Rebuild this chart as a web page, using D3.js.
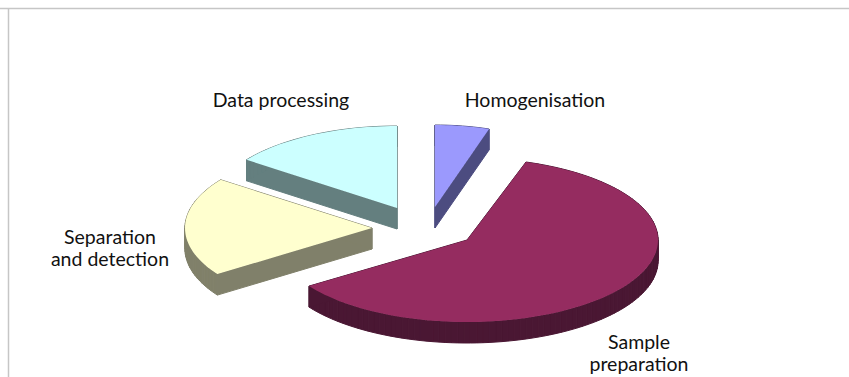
<!DOCTYPE html>
<html>
<head>
<meta charset="utf-8">
<script src="https://cdn.jsdelivr.net/npm/d3@7/dist/d3.min.js"></script>
<style>
  html, body { margin: 0; padding: 0; background: #fff; }
  svg { display: block; }
  text { font-family: "Lato", "Open Sans", sans-serif; font-size: 19.5px; fill: #111; text-anchor: middle; }
</style>
</head>
<body>
<svg id="chart" width="849" height="377"></svg>
<script>
// Share of analysis time per step, clockwise from twelve o'clock
const categories = ["Homogenisation", "Sample preparation", "Separation and detection", "Data processing"];
const shares = [5, 60.5, 19.5, 15];
const topColors = ["#9b99fd", "#952c60", "#ffffcf", "#ccffff"];
const wallColors = ["#4c4c80", "#4a1733", "#80806a", "#647f7f"];

// Pulled-out slice apexes, widths and label anchors, in pixels
const apexes = [[435, 207], [467, 240], [372, 228], [397, 208]];
const radiiX = [175, 191, 187, 186];
const labelLines = [["Homogenisation"], ["Sample", "preparation"], ["Separation", "and detection"], ["Data processing"]];
const labelAnchors = [[535, 107], [639, 349], [110, 244], [281, 107]];

const radiusY = 82, depth = 21;
const drawOrder = [3, 2, 0, 1];

const svg = d3.select("#chart");

// Frame rules along the top and left
svg.append("line").attr("x1", 0).attr("x2", 849).attr("y1", 8.5).attr("y2", 8.5)
  .attr("stroke", "#c6c6c6").attr("stroke-width", 1.5);
svg.append("line").attr("x1", 8.5).attr("x2", 8.5).attr("y1", 9).attr("y2", 377)
  .attr("stroke", "#c6c6c6").attr("stroke-width", 1.5);

const arcs = d3.pie().sort(null).value(d => d)(shares);

// Outline of the tilted top face of one slice, apex first
function outline(arc, apex, radiusX) {
  const sx = d3.scaleLinear().domain([-1, 1]).range([apex[0] - radiusX, apex[0] + radiusX]);
  const sy = d3.scaleLinear().domain([-1, 1]).range([apex[1] - radiusY, apex[1] + radiusY]);
  const n = Math.max(6, Math.ceil((arc.endAngle - arc.startAngle) * 30));
  const steps = d3.range(n + 1).map(i => arc.startAngle + (arc.endAngle - arc.startAngle) * i / n);
  return [apex].concat(steps.map(t => [sx(Math.sin(t)), sy(-Math.cos(t))]));
}

const line = d3.line();

drawOrder.forEach(i => {
  const pts = outline(arcs[i], apexes[i], radiiX[i]);
  // The wall is the outline swept downwards, one quad per edge
  const g = svg.append("g");
  g.selectAll("path.wall")
    .data(pts.map((p, k) => [p, pts[(k + 1) % pts.length]]))
    .join("path")
    .attr("class", "wall")
    .attr("d", ([a, b]) => line([a, b, [b[0], b[1] + depth], [a[0], a[1] + depth]]) + "Z")
    .attr("fill", wallColors[i])
    .attr("stroke", wallColors[i])
    .attr("stroke-width", 1);
  g.append("path")
    .attr("d", line(pts) + "Z")
    .attr("fill", topColors[i]);
});

// Slice names
categories.forEach((name, i) => {
  const t = svg.append("text").attr("aria-label", name)
    .attr("x", labelAnchors[i][0]).attr("y", labelAnchors[i][1]);
  labelLines[i].forEach((s, k) => {
    t.append("tspan").attr("x", labelAnchors[i][0]).attr("dy", k ? 21.5 : 0).text(s);
  });
});
</script>
</body>
</html>
